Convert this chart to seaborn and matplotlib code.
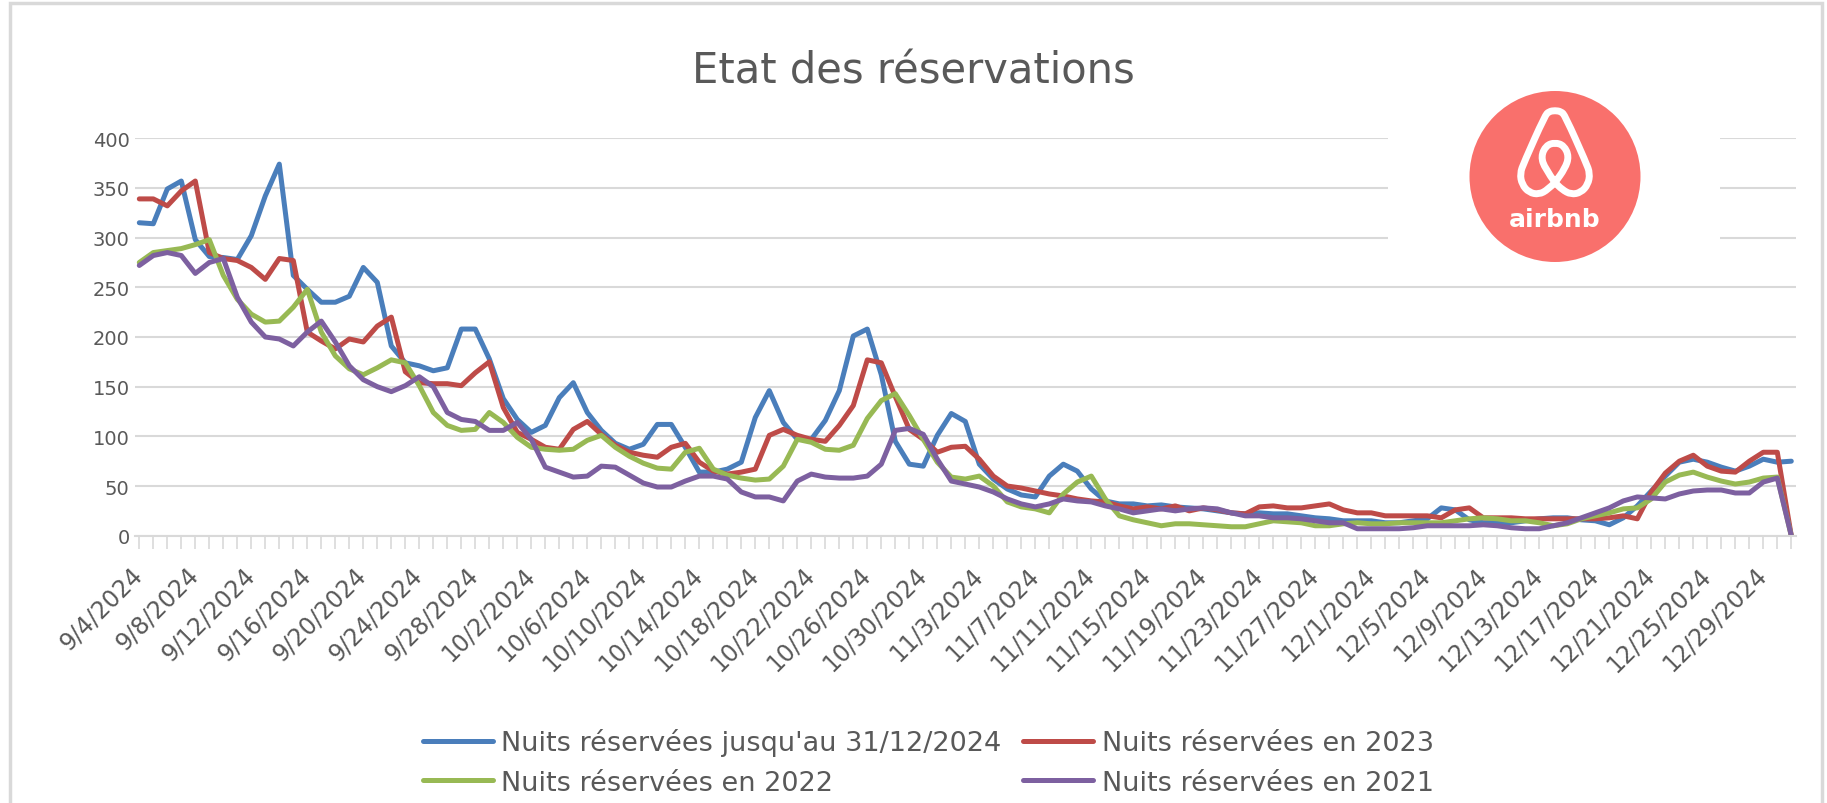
import numpy as np
import pandas as pd
import matplotlib
matplotlib.use("Agg")
import matplotlib.pyplot as plt
import matplotlib.transforms as mtransforms
import seaborn as sns
from matplotlib.patches import Circle, Rectangle, PathPatch
from matplotlib.path import Path

# ---------------- data ----------------
dates = pd.date_range("2024-09-04", "2024-12-31", freq="D")
date_labels = [f"{d.month}/{d.day}/{d.year}" for d in dates]

nuits_2024 = [315, 314, 349, 357, 298, 281, 280, 278, 302, 342,
              374, 262, 248, 235, 235, 241, 270, 255, 191, 174,
              171, 166, 169, 208, 208, 178, 138, 117, 104, 111,
              139, 154, 124, 106, 93, 87, 92, 112, 112, 89,
              64, 64, 67, 74, 119, 146, 114, 97, 97, 116,
              146, 201, 208, 162, 95, 72, 70, 101, 123, 115,
              72, 57, 47, 41, 39, 60, 72, 65, 47, 35,
              32, 32, 30, 31, 29, 28, 27, 25, 23, 22,
              23, 22, 22, 20, 18, 17, 15, 15, 15, 13,
              13, 15, 17, 28, 26, 16, 13, 13, 13, 15,
              17, 18, 18, 16, 15, 11, 18, 30, 45, 60,
              74, 77, 74, 69, 65, 70, 77, 74, 75]

nuits_2023 = [339, 339, 332, 347, 357, 285, 279, 277, 270, 258,
              279, 277, 205, 196, 188, 198, 195, 211, 220, 165,
              154, 153, 153, 151, 164, 175, 129, 104, 97, 89,
              87, 107, 115, 102, 91, 84, 81, 79, 89, 93,
              74, 65, 62, 64, 67, 101, 107, 101, 97, 95,
              111, 131, 177, 174, 140, 107, 97, 84, 89, 90,
              77, 60, 50, 48, 45, 42, 40, 37, 35, 34,
              30, 27, 29, 27, 30, 25, 28, 26, 23, 22,
              29, 30, 28, 28, 30, 32, 26, 23, 23, 20,
              20, 20, 20, 18, 26, 28, 18, 18, 18, 17,
              17, 17, 17, 17, 17, 18, 20, 17, 44, 63,
              75, 81, 70, 65, 64, 75, 84, 84, 0]

nuits_2022 = [275, 285, 287, 289, 293, 298, 262, 238, 223, 215,
              216, 230, 248, 205, 181, 168, 162, 169, 177, 174,
              151, 124, 111, 106, 107, 124, 114, 99, 89, 87,
              86, 87, 96, 101, 89, 80, 73, 68, 67, 84,
              88, 67, 61, 58, 56, 57, 70, 97, 94, 87,
              86, 91, 118, 136, 143, 121, 97, 74, 59, 57,
              60, 50, 34, 29, 27, 23, 42, 54, 60, 37,
              20, 16, 13, 10, 12, 12, 11, 10, 9, 9,
              12, 15, 14, 13, 10, 10, 12, 13, 12, 12,
              13, 13, 13, 13, 15, 17, 18, 17, 15, 15,
              13, 10, 12, 17, 20, 23, 27, 28, 37, 54,
              61, 64, 59, 55, 52, 54, 58, 59, 0]

nuits_2021 = [272, 282, 285, 282, 264, 275, 279, 240, 215, 200,
              198, 191, 205, 216, 195, 171, 157, 150, 145, 151,
              160, 150, 124, 117, 115, 106, 106, 114, 97, 69,
              64, 59, 60, 70, 69, 61, 53, 49, 49, 55,
              60, 60, 57, 44, 39, 39, 35, 55, 62, 59,
              58, 58, 60, 72, 106, 108, 102, 77, 55, 52,
              49, 44, 37, 32, 29, 32, 37, 35, 34, 30,
              27, 23, 25, 27, 25, 27, 28, 27, 23, 20,
              20, 18, 18, 17, 15, 13, 13, 7, 7, 7,
              7, 8, 10, 10, 10, 10, 11, 10, 8, 7,
              7, 10, 13, 18, 23, 28, 35, 39, 38, 37,
              42, 45, 46, 46, 43, 43, 54, 58, 0]

series_names = ["Nuits réservées jusqu'au 31/12/2024",
                "Nuits réservées en 2023",
                "Nuits réservées en 2022",
                "Nuits réservées en 2021"]
series_values = [nuits_2024, nuits_2023, nuits_2022, nuits_2021]
y_ticks = [0, 50, 100, 150, 200, 250, 300, 350, 400]
title = "Etat des réservations"

colors = ["#4A7EBB", "#BE4B48", "#98B954", "#7D60A0"]
text_gray = "#595959"
grid_gray = "#D9D9D9"

n = len(dates)
for v in series_values:
    assert len(v) == n, len(v)

df = pd.concat([pd.DataFrame({"day": np.arange(n), "value": v, "series": s})
                for s, v in zip(series_names, series_values)], ignore_index=True)

# ---------------- figure ----------------
sns.set_theme(style="white")
plt.rcParams["font.family"] = ["DejaVu Sans"]

W, H = 1827, 804
fig = plt.figure(figsize=(W / 100, H / 100), dpi=100)
fig.patch.set_facecolor("white")

px_day = 14.0
x0_px = 139.3
xmin, xmax = -0.3, n - 1 + 0.3
left_px = x0_px + xmin * px_day
right_px = x0_px + xmax * px_day
top_px, bot_px = 139.3, 536.7
ax = fig.add_axes([left_px / W, 1 - bot_px / H, (right_px - left_px) / W, (bot_px - top_px) / H])

sns.lineplot(data=df, x="day", y="value", hue="series", hue_order=series_names,
             palette=colors, linewidth=3.6, ax=ax, legend=True)
for line in ax.lines:
    line.set_solid_joinstyle("round")
    line.set_solid_capstyle("round")

ax.set_xlim(xmin, xmax)
ax.set_ylim(0, 400)
ax.set_xlabel("")
ax.set_ylabel("")
ax.set_yticks(y_ticks)
ax.set_yticklabels([str(t) for t in y_ticks])
ax.set_xticks(np.arange(n))
ax.set_xticklabels([lab if i % 4 == 0 else "" for i, lab in enumerate(date_labels)])

for sp in ["top", "right", "left"]:
    ax.spines[sp].set_visible(False)
ax.spines["bottom"].set_color(grid_gray)
ax.spines["bottom"].set_linewidth(1.5)
ax.yaxis.grid(True, color=grid_gray, linewidth=1.5)
ax.xaxis.grid(False)
ax.set_axisbelow(True)
ax.tick_params(axis="y", length=0, pad=4, labelsize=14, labelcolor=text_gray)
ax.tick_params(axis="x", bottom=True, length=9, width=1.2, color=grid_gray,
               pad=10, labelsize=17, labelcolor=text_gray)
shift = mtransforms.ScaledTranslation(-9 / 100, 0, fig.dpi_scale_trans)
for lab in ax.get_xticklabels():
    lab.set_rotation(45)
    lab.set_ha("right")
    lab.set_va("top")
    lab.set_rotation_mode("anchor")
    lab.set_transform(lab.get_transform() + shift)

# legend
handles, labels = ax.get_legend_handles_labels()
ax.get_legend().remove()
order = [0, 2, 1, 3]
for h in handles:
    h.set_linewidth(3.6)
fig.legend([handles[i] for i in order], [labels[i] for i in order], ncol=2,
           loc="center", bbox_to_anchor=(928 / W, 1 - 763 / H), frameon=False,
           fontsize=19.5, handlelength=2.6, handletextpad=0.3, columnspacing=0.8,
           labelspacing=0.5, labelcolor=text_gray)

# title
fig.text(0.5, 1 - 72 / H, title, ha="center", va="center", fontsize=30, color=text_gray)

# outer chart border
fig.add_artist(Rectangle((10 / W, -0.01), (1822 - 10) / W, 1.01 - 4 / H, fill=False,
                         edgecolor=grid_gray, linewidth=2.5, transform=fig.transFigure))

# white box behind the logo (interrupts gridlines)
fig.add_artist(Rectangle((1388 / W, 1 - 253 / H), (1720 - 1388) / W, (253 - 120) / H,
                         facecolor="white", edgecolor="none", transform=fig.transFigure, zorder=1))

# airbnb logo
cx, cy, R = 1555, 177.5, 85.5
lax = fig.add_axes([(cx - 90) / W, 1 - (cy + 90) / H, 180 / W, 180 / H])
lax.set_zorder(2)
lax.set_xlim(-90, 90)
lax.set_ylim(-90, 90)
lax.axis("off")
lax.add_patch(Circle((0, 0), R, facecolor="#F9706C", edgecolor="none"))


def smooth_path(pts):
    pts = np.asarray(pts, float)
    verts = [pts[0]]
    codes = [Path.MOVETO]
    for i in range(1, len(pts) - 1):
        mid = (pts[i] + pts[i + 1]) / 2
        verts += [pts[i], mid]
        codes += [Path.CURVE3, Path.CURVE3]
    verts.append(pts[-1])
    codes.append(Path.LINETO)
    return Path(verts, codes)


right_half = [(0, 66), (6, 65), (10, 61), (31, 14), (35, 3), (33, -8), (26, -16),
              (16, -18), (7, -13), (0, -6)]
left_half = [(-x, y) for x, y in right_half[::-1]]
outer = left_half + right_half[1:]
inner = [(0, -6), (-10, 8), (-14, 20), (-9, 31), (0, 34), (9, 31), (14, 20), (10, 8), (0, -6)]
for shape in (outer, inner):
    lax.add_patch(PathPatch(smooth_path(shape), facecolor="none", edgecolor="white",
                            linewidth=5, capstyle="round", joinstyle="round"))
lax.text(0, -42.5, "airbnb", ha="center", va="center", color="white",
         fontsize=18, fontweight="bold")

fig.savefig("out.png", dpi=100)
